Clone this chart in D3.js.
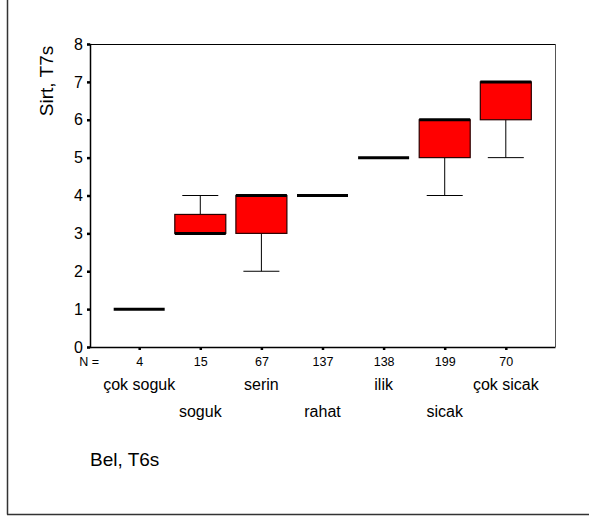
<!DOCTYPE html>
<html>
<head>
<meta charset="utf-8">
<script src="https://cdn.jsdelivr.net/npm/d3@7"></script>
<style>
  body { margin: 0; background: #fff; }
  svg { display: block; font-family: Arial, "Liberation Sans", sans-serif; }
</style>
</head>
<body>
<div id="chart"></div>
<script>
// categories and group sizes
const categories = ['çok soguk', 'soguk', 'serin', 'rahat', 'ilik', 'sicak', 'çok sicak'];
const counts = [4, 15, 67, 137, 138, 199, 70];

// box statistics
const whiskerLow = [1, 3, 2, 4, 5, 4, 5];
const q1 = [1, 3, 3, 4, 5, 5, 6];
const medians = [1, 3, 4, 4, 5, 6, 7];
const q3 = [1, 3.5, 4, 4, 5, 6, 7];
const whiskerHigh = [1, 4, 4, 4, 5, 6, 7];

const yTicks = [0, 1, 2, 3, 4, 5, 6, 7, 8];

const width = 589, height = 518;
const margin = { top: 44, right: 34, bottom: 171, left: 90 };
const plotW = width - margin.left - margin.right;
const plotH = height - margin.top - margin.bottom;

const svg = d3.select('#chart')
  .append('svg')
  .attr('width', width)
  .attr('height', height);

// outer frame (only left and bottom edges show)
svg.append('line')
  .attr('x1', 7.5).attr('x2', 7.5)
  .attr('y1', 0).attr('y2', 514.5)
  .attr('stroke', '#333').attr('stroke-width', 1.5);
svg.append('line')
  .attr('x1', 7).attr('x2', width)
  .attr('y1', 514.5).attr('y2', 514.5)
  .attr('stroke', '#333').attr('stroke-width', 1.5);

const g = svg.append('g')
  .attr('transform', `translate(${margin.left},${margin.top})`);

const x = d3.scalePoint()
  .domain(categories)
  .range([0, plotW])
  .padding(0.805);

const y = d3.scaleLinear()
  .domain([0, 8])
  .range([plotH, 0]);

// plot frame: top black, right grey
g.append('line')
  .attr('x1', 0).attr('x2', plotW)
  .attr('y1', 0.5).attr('y2', 0.5)
  .attr('stroke', '#000');
g.append('line')
  .attr('x1', plotW + 0.5).attr('x2', plotW + 0.5)
  .attr('y1', 0).attr('y2', plotH)
  .attr('stroke', '#555');

// y axis
const yAxis = g.append('g')
  .call(d3.axisLeft(y)
    .tickValues(yTicks)
    .tickSize(3)
    .tickPadding(4)
    .tickFormat(d3.format('d')));
yAxis.select('.domain').attr('stroke', '#000').attr('stroke-width', 1.5);
yAxis.selectAll('.tick line').attr('stroke-width', 2.5);
yAxis.selectAll('.tick text')
  .attr('font-size', 16)
  .attr('fill', '#000');

// x axis
const xAxis = g.append('g')
  .attr('transform', `translate(0,${plotH})`)
  .call(d3.axisBottom(x)
    .tickSize(3)
    .tickSizeOuter(0)
    .tickFormat((d, i) => counts[i]));
xAxis.select('.domain').attr('stroke', '#000').attr('stroke-width', 1.5);
xAxis.selectAll('.tick line').attr('stroke-width', 2.5);
xAxis.selectAll('.tick text')
  .attr('font-size', 12.5)
  .attr('y', 18.5)
  .attr('dy', null)
  .attr('fill', '#000');

g.append('text')
  .attr('x', 9)
  .attr('y', plotH + 18.5)
  .attr('text-anchor', 'end')
  .attr('font-size', 12.5)
  .text('N =');

// category labels, staggered in two rows
g.selectAll('.cat')
  .data(categories)
  .enter()
  .append('text')
  .attr('class', 'cat')
  .attr('x', d => x(d))
  .attr('y', (d, i) => plotH + (i % 2 === 0 ? 43 : 70))
  .attr('text-anchor', 'middle')
  .attr('font-size', 16)
  .text(d => d);

// axis titles
svg.append('text')
  .attr('x', 90)
  .attr('y', 466)
  .attr('font-size', 19)
  .text('Bel, T6s');

svg.append('text')
  .attr('transform', 'translate(53,81) rotate(-90)')
  .attr('text-anchor', 'middle')
  .attr('font-size', 19)
  .text('Sirt, T7s');

// boxes
const boxW = 51, capW = 36;
const stats = categories.map((c, i) => ({
  cat: c, lo: whiskerLow[i], q1: q1[i], med: medians[i], q3: q3[i], hi: whiskerHigh[i]
}));

const box = g.selectAll('.box')
  .data(stats)
  .enter()
  .append('g')
  .attr('class', 'box')
  .attr('transform', d => `translate(${x(d.cat)},0)`);

// whiskers
box.filter(d => d.lo < d.q1).append('line')
  .attr('x1', 0).attr('x2', 0)
  .attr('y1', d => y(d.q1)).attr('y2', d => y(d.lo))
  .attr('stroke', '#000');
box.filter(d => d.lo < d.q1).append('line')
  .attr('x1', -capW / 2).attr('x2', capW / 2)
  .attr('y1', d => y(d.lo)).attr('y2', d => y(d.lo))
  .attr('stroke', '#000');
box.filter(d => d.hi > d.q3).append('line')
  .attr('x1', 0).attr('x2', 0)
  .attr('y1', d => y(d.q3)).attr('y2', d => y(d.hi))
  .attr('stroke', '#000');
box.filter(d => d.hi > d.q3).append('line')
  .attr('x1', -capW / 2).attr('x2', capW / 2)
  .attr('y1', d => y(d.hi)).attr('y2', d => y(d.hi))
  .attr('stroke', '#000');

box.filter(d => d.q3 > d.q1).append('rect')
  .attr('x', -boxW / 2)
  .attr('y', d => y(d.q3))
  .attr('width', boxW)
  .attr('height', d => y(d.q1) - y(d.q3))
  .attr('fill', '#ff0000')
  .attr('stroke', '#2a0000')
  .attr('stroke-width', 1.2);

// medians
box.append('line')
  .attr('x1', -boxW / 2).attr('x2', boxW / 2)
  .attr('y1', d => y(d.med)).attr('y2', d => y(d.med))
  .attr('stroke', '#000')
  .attr('stroke-width', 3);
</script>
</body>
</html>
